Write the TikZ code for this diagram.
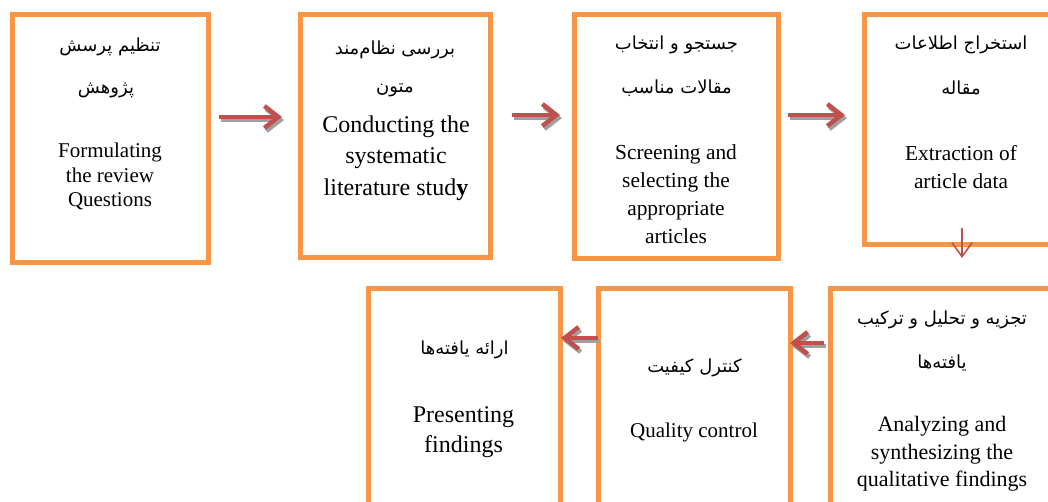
\documentclass[tikz,border=0pt]{standalone}
\usepackage{fontspec}
\setmainfont{Liberation Serif}
\newfontfamily\fa[Script=Arabic]{DejaVu Sans}
\TeXXeTstate=1
\usetikzlibrary{arrows.meta}
\definecolor{boxorange}{HTML}{F79646}
\definecolor{arrred}{HTML}{C0504D}
\definecolor{arrshadow}{HTML}{A0A0A0}
\tikzset{
  box/.style={draw=boxorange, line width=5pt, fill=white, inner sep=0pt},
  fatxt/.style={inner sep=0pt, font=\fa\fontsize{18}{21}\selectfont},
  entxt/.style={inner sep=0pt, align=center},
  fatarrow/.style={draw=arrred, line width=4.5pt, -{Straight Barb[length=14pt,width=22pt]}},
  fatshadow/.style={draw=arrshadow, line width=4.5pt, -{Straight Barb[length=14pt,width=22pt]}},
  thinarrow/.style={draw=arrred, line width=1.6pt, -{Straight Barb[length=14pt,width=20pt]}}
}
\begin{document}
\begin{tikzpicture}[x=1pt,y=-1pt]
\useasboundingbox (0,0) rectangle (1048,502);
\clip (0,0) rectangle (1048,502);
\fill[white] (0,0) rectangle (1048,502);
% boxes
\node[box, minimum width=196pt, minimum height=248.5pt] (b1) at (110,138.75) {};
\node[box, minimum width=190pt, minimum height=243.5pt] (b2) at (395,136.25) {};
\node[box, minimum width=204pt, minimum height=244pt] (b3) at (676.5,136.5) {};
\node[box, minimum width=194pt, minimum height=230pt] (b4) at (961,129.5) {};
\node[box, minimum width=224pt, minimum height=241.5pt] (b5) at (942,409.25) {};
\node[box, minimum width=192pt, minimum height=241.5pt] (b6) at (694.5,409.25) {};
\node[box, minimum width=192pt, minimum height=241.5pt] (b7) at (464.5,409.25) {};
% box 1
\node[fatxt] (f1a) at (110,47) {\beginR تنظیم پرسش\endR};
\node[fatxt] (f1b) at (106,90) {\beginR پژوهش\endR};
\node[entxt, font=\fontsize{21}{24.5}\selectfont] (e1) at (110,176.5) {Formulating\\the review\\Questions};
% box 2
\node[fatxt] (f2a) at (395,50) {\beginR بررسی نظام‌مند\endR};
\node[fatxt] (f2b) at (395,90) {\beginR متون\endR};
\node[entxt, font=\fontsize{24}{31.5}\selectfont] (e2) at (396,158) {Conducting the\\systematic\\literature stud\textbf{y}};
% box 3
\node[fatxt] (f3a) at (676.5,45) {\beginR جستجو و انتخاب\endR};
\node[fatxt] (f3b) at (676.5,88) {\beginR مقالات مناسب\endR};
\node[entxt, font=\fontsize{21.4}{28}\selectfont] (e3) at (676,194) {Screening and\\selecting the\\appropriate\\articles};
% box 4
\node[fatxt] (f4a) at (961,45) {\beginR استخراج اطلاعات\endR};
\node[fatxt] (f4b) at (961,88) {\beginR مقاله\endR};
\node[entxt, font=\fontsize{21.3}{28}\selectfont] (e4) at (961,167) {Extraction of\\article data};
% box 5
\node[fatxt] (f5a) at (942,320) {\beginR تجزیه و تحلیل و ترکیب\endR};
\node[fatxt] (f5b) at (942,363) {\beginR یافته‌ها\endR};
\node[entxt, font=\fontsize{22}{27.5}\selectfont] (e5) at (942,454) {Analyzing and\\synthesizing the\\qualitative findings};
% box 6
\node[fatxt] (f6a) at (694.5,368) {\beginR کنترل کیفیت\endR};
\node[entxt, font=\fontsize{21}{25}\selectfont] (e6) at (694,432) {Quality control};
% box 7
\node[fatxt] (f7a) at (464.5,350) {\beginR ارائه یافته‌ها\endR};
\node[entxt, font=\fontsize{24}{30}\selectfont] (e7) at (463.5,432) {Presenting\\findings};
% arrow endpoints
\coordinate (a1s) at (219,117); \coordinate (a1e) at (282,117);
\coordinate (a2s) at (512,115); \coordinate (a2e) at (560,115);
\coordinate (a3s) at (788,115); \coordinate (a3e) at (845,115);
\coordinate (a4s) at (962,228); \coordinate (a4e) at (962,258);
\coordinate (a5s) at (824,343); \coordinate (a5e) at (790,343);
\coordinate (a6s) at (598,338); \coordinate (a6e) at (561,338);
% shadows
\foreach \s/\e in {a1s/a1e,a2s/a2e,a3s/a3e,a5s/a5e,a6s/a6e}{
  \draw[fatshadow] ([shift={(2pt,-3pt)}]\s) -- ([shift={(2pt,-3pt)}]\e);
}
% arrows
\foreach \s/\e in {a1s/a1e,a2s/a2e,a3s/a3e,a5s/a5e,a6s/a6e}{
  \draw[fatarrow] (\s) -- (\e);
}
\draw[thinarrow] (a4s) -- (a4e);
\end{tikzpicture}
\end{document}
